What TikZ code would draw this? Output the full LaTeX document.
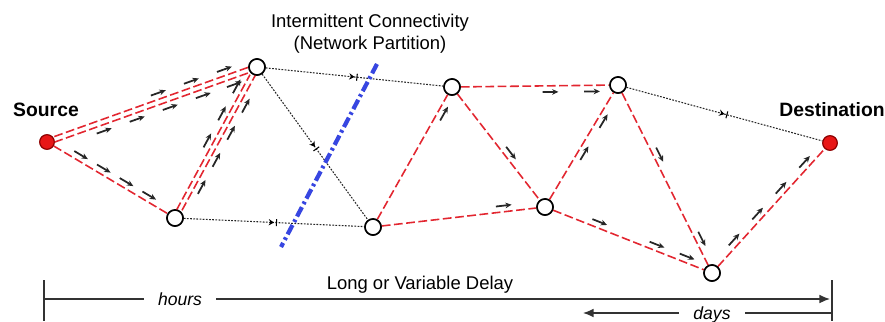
\documentclass[tikz,border=0pt]{standalone}
\usepackage{fontspec}
\setmainfont{Liberation Sans}
\usetikzlibrary{arrows.meta}
\usetikzlibrary{decorations.markings}

\definecolor{pathred}{RGB}{226,38,48}
\definecolor{hostred}{RGB}{232,22,22}
\definecolor{cutblue}{RGB}{55,70,225}

\tikzset{
  hop/.style={circle,draw=black,fill=white,line width=0.9pt,minimum size=0.32cm,inner sep=0pt},
  endpt/.style={circle,draw=red!55!black,fill=hostred,line width=0.6pt,minimum size=0.29cm,inner sep=0pt},
  route/.style={draw=pathred,line width=0.9pt,dash pattern=on 5pt off 2pt},
  link/.style={draw=black!85,line width=0.6pt,dash pattern=on 1pt off 0.8pt},
  msg/.style 2 args={postaction={decorate,decoration={markings,
      mark=at position #1 with {\draw[solid,black!85,line width=1pt,-{Stealth[length=3.6pt,width=3.2pt]}] (-5pt,#2) -- (4pt,#2);}}}},
  stalled/.style={postaction={decorate,decoration={markings,
      mark=at position #1 with {\arrow[black,solid]{Stealth[length=3pt,width=3.6pt]}
        \draw[solid,black,line width=0.6pt] (1.4pt,-2pt) -- (1.4pt,2pt);}}}},
  stalled/.default=0.5,
  note/.style={font=\fontsize{10.5}{12.5}\selectfont},
  hostname/.style={font=\fontsize{11}{13}\selectfont\bfseries},
  delaybar/.style={draw=black!80,line width=0.85pt},
}

\begin{document}
\begin{tikzpicture}[x=0.02cm,y=-0.02cm]
\useasboundingbox (0,0) rectangle (885,321);

% hosts
\node[endpt] (src) at (47,142) {};
\node[hop] (a) at (257,67) {};
\node[hop] (b) at (175,218) {};
\node[hop] (c) at (373,227) {};
\node[hop] (d) at (452,87) {};
\node[hop] (e) at (545,207) {};
\node[hop] (f) at (618,85) {};
\node[hop] (g) at (712,273) {};
\node[endpt] (dst) at (830,143) {};

\node[hostname] (srclbl) at (46,110) {Source};
\node[hostname] (dstlbl) at (832,110) {Destination};
\node[note,align=center] (gaplbl) at (370,34) {Intermittent Connectivity\\(Network Partition)};

% broken links
\draw[link,stalled] (a) -- (d);
\draw[link,stalled] (a) -- (c);
\draw[link,stalled] (b) -- (c);
\draw[link,stalled] (f) -- (dst);

% partition
\coordinate (cuttop) at (377,64);
\coordinate (cutbot) at (281,247);
\draw[cutblue,line width=2.4pt,dash pattern=on 6pt off 2pt on 1.5pt off 2pt] (cuttop) -- (cutbot);

% message copies
\draw[route,transform canvas={shift={(0,1.6pt)}},msg={0.55}{3.5pt},msg={0.72}{3.5pt},msg={0.89}{3.5pt}] (src) -- (a);
\draw[route,transform canvas={shift={(0,-1.6pt)}},msg={0.25}{-3.5pt},msg={0.42}{-3.5pt},msg={0.59}{-3.5pt},msg={0.76}{-3.5pt},msg={0.92}{-3.5pt}] (src) -- (a);
\draw[route,msg={0.22}{3.5pt},msg={0.42}{3.5pt},msg={0.62}{3.5pt},msg={0.82}{3.5pt}] (src) -- (b);
\draw[route,transform canvas={shift={(1.6pt,0)}},msg={0.2}{-3.5pt},msg={0.4}{-3.5pt},msg={0.6}{-3.5pt},msg={0.8}{-3.5pt}] (b) -- (a);
\draw[route,transform canvas={shift={(-1.6pt,0)}},msg={0.5}{3.5pt},msg={0.7}{3.5pt},msg={0.9}{3.5pt}] (b) -- (a);
\draw[route,msg={0.88}{-3.5pt}] (c) -- (d);
\draw[route,msg={0.8}{3.5pt}] (c) -- (e);
\draw[route,msg={0.61}{-3.5pt},msg={0.89}{-3.5pt}] (d) -- (f);
\draw[route,msg={0.6}{3.5pt}] (d) -- (e);
\draw[route,msg={0.47}{-3.5pt},msg={0.77}{-3.5pt}] (e) -- (f);
\draw[route,msg={0.3}{3.5pt},msg={0.68}{3.5pt},msg={0.88}{3.5pt}] (e) -- (g);
\draw[route,msg={0.38}{3.5pt},msg={0.87}{3.5pt}] (f) -- (g);
\draw[route,msg={0.2}{3.5pt},msg={0.42}{3.5pt},msg={0.64}{3.5pt},msg={0.86}{3.5pt}] (g) -- (dst);

% redraw hosts over the lines
\node[endpt] at (src) {};
\node[endpt] at (dst) {};
\foreach \h in {a,b,c,d,e,f,g}
  \node[hop] at (\h) {};

% delay scale
\coordinate (tickl) at (44,280);
\coordinate (tickl2) at (44,321);
\coordinate (tickr) at (832,280);
\coordinate (tickr2) at (832,321);
\coordinate (barl) at (44,299);
\coordinate (barr) at (830,299);
\coordinate (dayr) at (832,313);
\coordinate (dayl) at (583,313);
\draw[delaybar] (tickl) -- (tickl2);
\draw[delaybar] (tickr) -- (tickr2);
\draw[delaybar,-{Latex[length=6pt,width=5pt]}] (barl) -- (barr);
\draw[delaybar,-{Latex[length=6pt,width=5pt]}] (dayr) -- (dayl);
\node[note,fill=white,inner xsep=8pt,inner ysep=1pt,font=\fontsize{10}{12}\selectfont\itshape] (hours) at (180,299) {hours};
\node[note,fill=white,inner xsep=8pt,inner ysep=1pt,font=\fontsize{10}{12}\selectfont\itshape] (days) at (712,315) {days};
\node[note] (delay) at (420,285) {Long or Variable Delay};
\end{tikzpicture}
\end{document}
